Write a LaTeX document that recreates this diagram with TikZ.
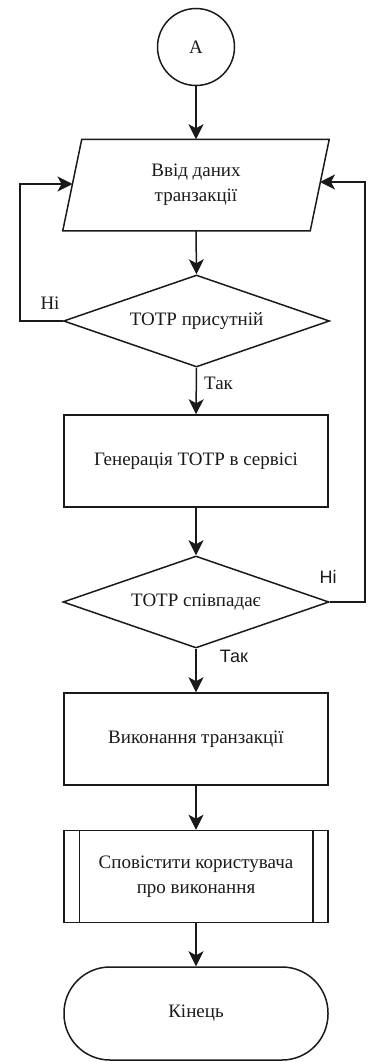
\documentclass[tikz,border=0pt]{standalone}
\usepackage{fontspec}
\setmainfont{Liberation Serif}
\newfontfamily\labelsans{Liberation Sans}
\usetikzlibrary{shapes.geometric, arrows.meta, calc}

\definecolor{ink}{HTML}{1A1A1A}

\begin{document}
\begin{tikzpicture}[x=1pt, y=-1pt,
  line width=1.5pt, draw=ink,
  every node/.style={font=\fontsize{19}{25}\selectfont, text=ink},
  boxstyle/.style={draw=ink, rectangle, minimum width=264pt, minimum height=92pt, align=center, inner sep=0pt},
  decision/.style={draw=ink, diamond, shape aspect=2.9, minimum width=266pt, minimum height=92pt, inner sep=0pt, align=center},
  flow/.style={draw=ink, -{Stealth[length=15pt, width=15pt, inset=4pt]}},
  serifnote/.style={font=\fontsize{19}{23}\selectfont},
  sansnote/.style={font=\labelsans\fontsize{18}{22}\selectfont},
]
\useasboundingbox (0,0) rectangle (369,1062);

% connector A
\node[draw=ink, circle, minimum size=77pt, inner sep=0pt] (conn) at (196,47) {A};

% input parallelogram (text node + outline)
\node[rectangle, minimum width=246pt, minimum height=90pt, align=center, inner sep=0pt] (input) at (196,185) {Ввід даних\\транзакції};
\draw ($(input.north west)+(9.5,0)$) -- ($(input.north east)+(9.5,0)$)
  -- ($(input.south east)+(-9.5,0)$) -- ($(input.south west)+(-9.5,0)$) -- cycle;
\coordinate (inL) at (72.5,184);
\coordinate (inR) at (320,182);

% first decision
\node[decision] (dec1) at (196.5,321) {ТОТР присутній};

% generation step
\node[boxstyle] (gen) at (196,461) {Генерація ТОТР в сервісі};

% second decision
\node[decision] (dec2) at (196,602) {ТОТР співпадає};

% execution step
\node[boxstyle] (exec) at (196,739) {Виконання транзакції};

% predefined process
\node[boxstyle] (notify) at (196,876.5) {Сповістити користувача\\про виконання};
\draw ([xshift=16pt]notify.north west) -- ([xshift=16pt]notify.south west);
\draw ([xshift=-16pt]notify.north east) -- ([xshift=-16pt]notify.south east);

% terminal
\node[draw=ink, rectangle, rounded corners=46pt, minimum width=264pt, minimum height=93pt] (stop) at (196,1013.5) {Кінець};

% main flow
\draw[flow] (conn) -- (input.north);
\draw[flow] (input.south) -- (dec1.north);
\draw[flow] (dec1.south) -- (gen.north);
\draw[flow] (gen.south) -- (dec2.north);
\draw[flow] (dec2.south) -- (exec.north);
\draw[flow] (exec.south) -- (notify.north);
\draw[flow] (notify.south) -- (stop.north);

% loops back to input
\draw[flow] (dec1.west) -- (20,321) -- (20,184) -- (inL);
\draw[flow] (dec2.east) -- (365,602) -- (365,182) -- (inR);

% branch labels
\node[serifnote] (no1) at (50,303) {Ні};
\node[serifnote] (yes1) at (218.5,383) {Так};
\node[sansnote] (no2) at (328,577) {Ні};
\node[sansnote] (yes2) at (234,656) {Так};
\end{tikzpicture}
\end{document}
